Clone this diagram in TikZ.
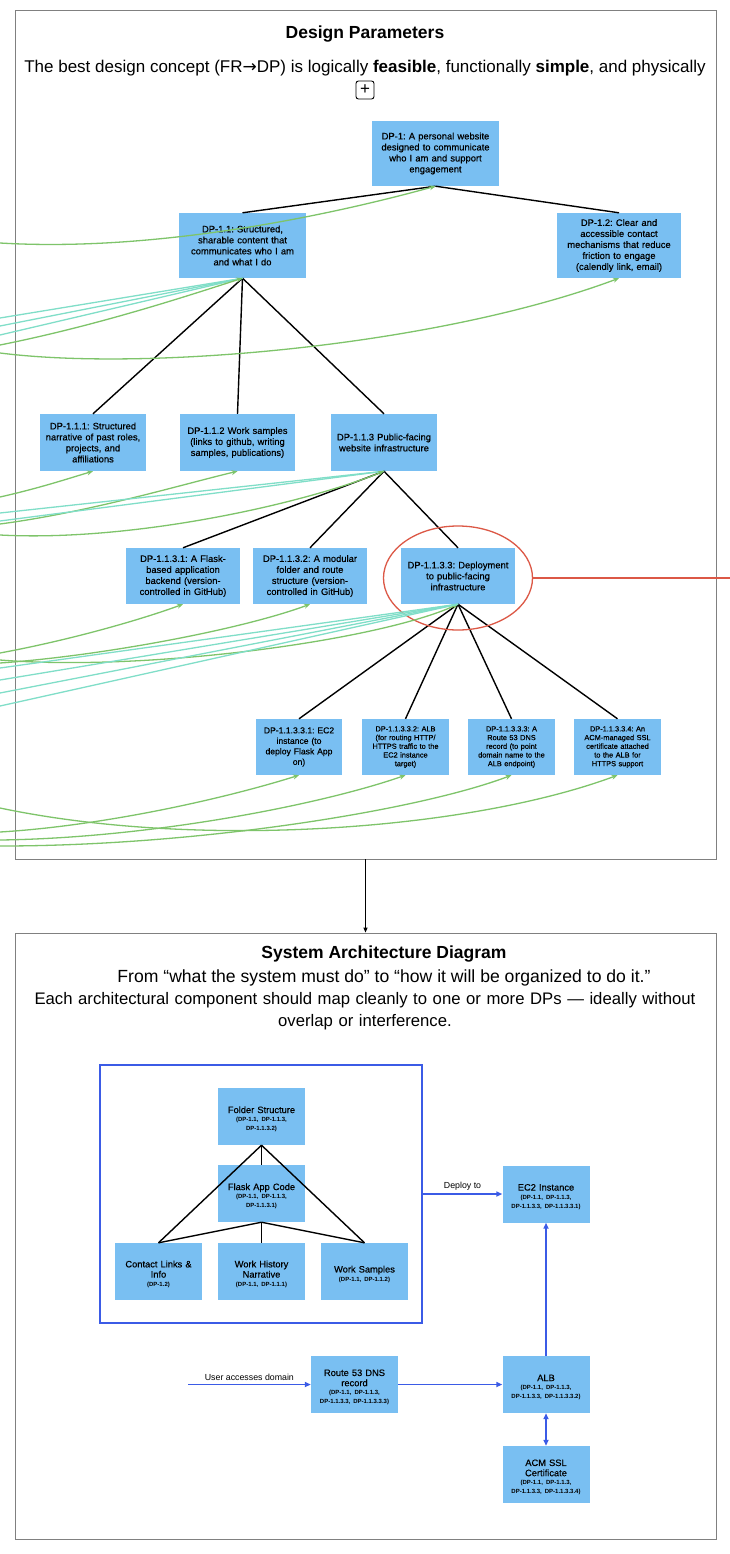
\documentclass[tikz,border=0pt]{standalone}
\usepackage{fontspec}
\setmainfont{Liberation Sans}
\newfontfamily\boxfont{Liberation Sans}[FakeBold=0.4]
\newfontfamily\arrowfont{DejaVu Sans}
\usepackage{tikz}
\usepackage{color}
\usetikzlibrary{arrows.meta,shapes.geometric}

\definecolor{boxblue}{RGB}{121,191,242}
\definecolor{linkgreen}{RGB}{126,196,106}
\definecolor{linkteal}{RGB}{128,222,200}
\definecolor{archblue}{RGB}{59,91,230}
\definecolor{ringred}{RGB}{220,88,70}
\definecolor{framegray}{RGB}{128,128,128}

\newcommand{\dpref}[1]{\par{\normalfont\bfseries\fontsize{6}{8.8}\selectfont #1\par}}
\newcommand{\archstrut}{\rule{0pt}{12pt}}

\begin{document}
\frenchspacing
\begin{tikzpicture}[x=1pt,y=-1pt,
  panel/.style={draw=framegray,line width=0.8pt,inner sep=0pt},
  dpbox/.style={fill=boxblue,inner sep=0pt,align=center,font=\boxfont\fontsize{9.4}{11}\selectfont},
  archbox/.style={fill=boxblue,inner sep=0pt,align=center,text width=87pt,minimum height=57pt,font=\boxfont\fontsize{9.3}{10.2}\selectfont},
  tree/.style={black,line width=1.4pt},
  greenln/.style={linkgreen,line width=1.3pt,-{Stealth[length=6pt,width=5pt]}},
  tealln/.style={linkteal,line width=1.3pt},
  archln/.style={archblue,line width=1.6pt,-{Triangle[length=6pt,width=5pt]}},
  lbl/.style={text=black,font=\fontsize{8.8}{10}\selectfont,inner sep=3pt}]
\useasboundingbox (0,0) rectangle (730,1554);
\fill[white] (0,0) rectangle (730,1554);

%% design parameters
\node[panel,minimum width=701pt,minimum height=849pt] (dppanel) at (365.5,434.5) {};
\node[font=\bfseries\fontsize{17.5}{20}\selectfont] (dptitle) at (365,34) {Design Parameters};
\node[font=\fontsize{17}{19}\selectfont] (dpsub) at (365,68) {The best design concept (FR{\arrowfont →}DP) is logically \textbf{feasible}, functionally \textbf{simple}, and physically};
\node[draw,line width=0.9pt,rounded corners=2.5pt,minimum size=18pt,inner sep=0pt,font=\fontsize{17}{17}\selectfont] (plusbtn) at (365,90) {+};

\node[dpbox,text width=127pt,minimum height=65pt] (dp1) at (435.5,153.5) {DP-1: A personal website\\designed to communicate\\who I am and support\\engagement};
\node[dpbox,text width=127pt,minimum height=65pt] (dp11) at (242.5,245.5) {DP-1.1: Structured,\\sharable content that\\communicates who I am\\and what I do};
\node[dpbox,text width=124pt,minimum height=65pt] (dp12) at (619,245.5) {DP-1.2: Clear and\\accessible contact\\mechanisms that reduce\\friction to engage\\(calendly link, email)};

\node[dpbox,text width=106pt,minimum height=57pt] (dp111) at (93,442.5) {DP-1.1.1: Structured\\narrative of past roles,\\projects, and\\affiliations};
\node[dpbox,text width=115pt,minimum height=57pt] (dp112) at (237.5,442.5) {DP-1.1.2 Work samples\\(links to github, writing\\samples, publications)};
\node[dpbox,text width=106pt,minimum height=57pt] (dp113) at (384,442.5) {DP-1.1.3 Public-facing\\website infrastructure};

\node[dpbox,text width=114pt,minimum height=56pt] (dp1131) at (183,576) {DP-1.1.3.1: A Flask-\\based application\\backend (version-\\controlled in GitHub)};
\node[dpbox,text width=114pt,minimum height=56pt] (dp1132) at (310,576) {DP-1.1.3.2: A modular\\folder and route\\structure (version-\\controlled in GitHub)};
\node[dpbox,text width=114pt,minimum height=56pt] (dp1133) at (458,576) {DP-1.1.3.3: Deployment\\to public-facing\\infrastructure};

\node[dpbox,text width=86pt,minimum height=56pt,font=\boxfont\fontsize{8.6}{10.5}\selectfont] (dp11331) at (299,747) {DP-1.1.3.3.1: EC2\\instance (to\\deploy Flask App\\on)};
\node[dpbox,text width=87pt,minimum height=56pt,font=\boxfont\fontsize{7.4}{8.7}\selectfont] (dp11332) at (405.5,747) {DP-1.1.3.3.2: ALB\\(for routing HTTP/\\HTTPS traffic to the\\EC2 instance\\target)};
\node[dpbox,text width=87pt,minimum height=56pt,font=\boxfont\fontsize{7.4}{8.7}\selectfont] (dp11333) at (511.5,747) {DP-1.1.3.3.3: A\\Route 53 DNS\\record (to point\\domain name to the\\ALB endpoint)};
\node[dpbox,text width=87pt,minimum height=56pt,font=\boxfont\fontsize{7.4}{8.7}\selectfont] (dp11334) at (617.5,747) {DP-1.1.3.3.4: An\\ACM-managed SSL\\certificate attached\\to the ALB for\\HTTPS support};

%% tree
\draw[tree] (dp1.south) -- (dp11.north);
\draw[tree] (dp1.south) -- (dp12.north);
\foreach \c in {dp111,dp112,dp113} \draw[tree] (dp11.south) -- (\c.north);
\foreach \c in {dp1131,dp1132,dp1133} \draw[tree] (dp113.south) -- (\c.north);
\foreach \c in {dp11331,dp11332,dp11333,dp11334} \draw[tree] (dp1133.south) -- (\c.north);

%% ring round dp-1.1.3.3
\node[ellipse,draw=ringred,line width=1.3pt,minimum width=149pt,minimum height=104pt,inner sep=0pt] (ring) at (458,578) {};
\coordinate (ringend) at (730,578);
\draw[ringred,line width=1.3pt] (ring.east) -- (ringend);

%% links from the left
\coordinate (g1) at (0,243);
\draw[greenln] (g1) .. controls (150,252) and (320,218) .. (dp1.south);
\foreach \y [count=\i] in {318,326,335} {
  \coordinate (ta\i) at (0,\y);
  \draw[tealln] (ta\i) -- (dp11.south);
}
\coordinate (g2) at (0,345);
\draw[greenln] (g2) .. controls (100,325) and (190,295) .. (dp11.south);
\coordinate (g3) at (0,353);
\draw[greenln] (g3) .. controls (150,372) and (440,345) .. (dp12.south);

\coordinate (g4) at (0,497);
\draw[greenln] (g4) .. controls (40,488) and (70,478) .. (dp111.south);
\coordinate (g5) at (0,524);
\draw[greenln] (g5) .. controls (90,512) and (180,485) .. (dp112.south);
\foreach \y [count=\i] in {513,521} {
  \coordinate (tb\i) at (0,\y);
  \draw[tealln] (tb\i) -- (dp113.south);
}
\coordinate (g6) at (0,535);
\draw[greenln] (g6) .. controls (130,542) and (300,505) .. (dp113.south);

\coordinate (g7) at (0,653);
\draw[greenln] (g7) .. controls (70,640) and (140,620) .. (dp1131.south);
\coordinate (g8) at (0,663);
\draw[greenln] (g8) .. controls (100,656) and (240,630) .. (dp1132.south);
\coordinate (g9) at (0,660);
\draw[greenln] (g9) .. controls (150,672) and (380,640) .. (dp1133.south);
\foreach \y [count=\i] in {668,680,693,706} {
  \coordinate (tc\i) at (0,\y);
  \draw[tealln] (tc\i) -- (dp1133.south);
}

\coordinate (g10) at (0,832);
\draw[greenln] (g10) .. controls (100,826) and (220,800) .. (dp11331.south);
\coordinate (g11) at (0,840);
\draw[greenln] (g11) .. controls (150,838) and (320,805) .. (dp11332.south);
\coordinate (g12) at (0,846);
\draw[greenln] (g12) .. controls (200,846) and (420,810) .. (dp11333.south);
\coordinate (g13) at (0,808);
\draw[greenln] (g13) .. controls (200,850) and (470,830) .. (dp11334.south);

%% system architecture
\node[panel,minimum width=701pt,minimum height=606pt] (archpanel) at (365.5,1236) {};
\draw[black,line width=1pt,-{Triangle[length=5pt,width=4pt]}] (dppanel.south) -- (archpanel.north);
\node[font=\bfseries\fontsize{17.5}{20}\selectfont] (archtitle) at (384,954) {System Architecture Diagram};
\node[font=\fontsize{17.6}{20}\selectfont] (archsubA) at (384,978) {From “what the system must do” to “how it will be organized to do it.”};
\node[text width=700pt,align=center,font=\fontsize{16.7}{21.5}\selectfont] (archsubB) at (365,1011) {Each architectural component should map cleanly to one or more DPs — ideally without\\overlap or interference.};

\node[draw=archblue,line width=1.6pt,minimum width=322pt,minimum height=258pt,inner sep=0pt] (app) at (261,1194) {};
\node[archbox] (folder) at (261.5,1116.5) {\archstrut Folder Structure\dpref{(DP-1.1, DP-1.1.3,\\DP-1.1.3.2)}};
\node[archbox] (flask) at (261.5,1193.5) {\archstrut Flask App Code\dpref{(DP-1.1, DP-1.1.3,\\DP-1.1.3.1)}};
\node[archbox] (contact) at (158.5,1271.5) {\archstrut Contact Links \&\\Info\dpref{(DP-1.2)}};
\node[archbox] (history) at (261.5,1271.5) {\archstrut Work History\\Narrative\dpref{(DP-1.1, DP-1.1.1)}};
\node[archbox] (samples) at (364.5,1271.5) {\archstrut Work Samples\dpref{(DP-1.1, DP-1.1.2)}};

\draw[tree] (folder.south) -- (flask.north);
\foreach \c in {contact,samples} \draw[tree] (folder.south) -- (\c.north);
\foreach \c in {contact,history,samples} \draw[tree] (flask.south) -- (\c.north);

\node[archbox] (ec2) at (546,1194) {\archstrut EC2 Instance\dpref{(DP-1.1, DP-1.1.3,\\DP-1.1.3.3, DP-1.1.3.3.1)}};
\node[archbox] (route53) at (354.5,1384.5) {\archstrut Route 53 DNS\\record\dpref{(DP-1.1, DP-1.1.3,\\DP-1.1.3.3, DP-1.1.3.3.3)}};
\node[archbox] (alb) at (546,1384.5) {\archstrut ALB\dpref{(DP-1.1, DP-1.1.3,\\DP-1.1.3.3, DP-1.1.3.3.2)}};
\node[archbox] (acm) at (546,1474.5) {\archstrut ACM SSL\\Certificate\dpref{(DP-1.1, DP-1.1.3,\\DP-1.1.3.3, DP-1.1.3.3.4)}};

\coordinate (user) at (188,1384.5);
\draw[archln] (app.east) -- node[lbl,above] {Deploy to} (ec2.west);
\draw[archln] (user) -- node[lbl,above] {User accesses domain} (route53.west);
\draw[archln] (route53.east) -- (alb.west);
\draw[archln] (alb.north) -- (ec2.south);
\draw[archln,{Triangle[length=6pt,width=5pt]}-{Triangle[length=6pt,width=5pt]}] (alb.south) -- (acm.north);

\end{tikzpicture}
\end{document}
